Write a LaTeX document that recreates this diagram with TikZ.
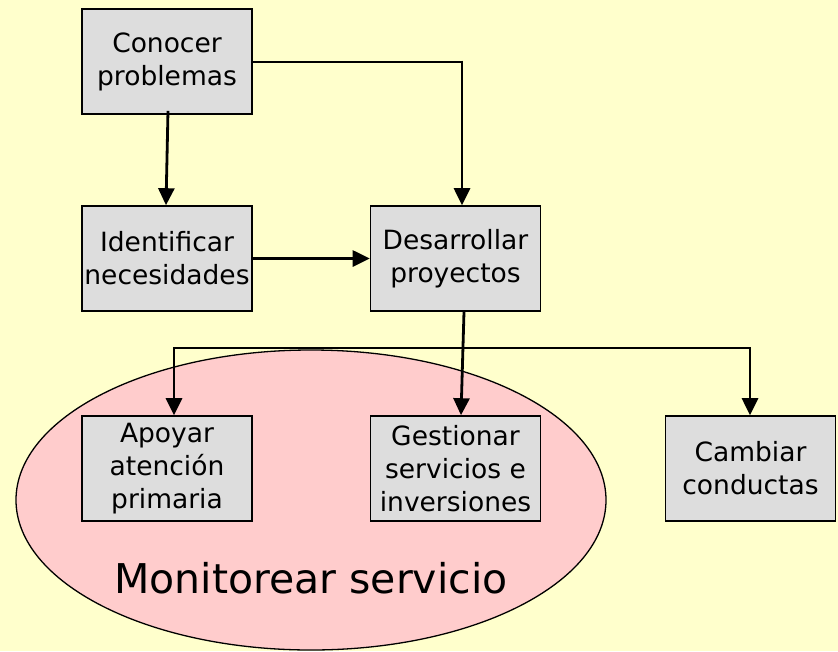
\documentclass[tikz,border=0pt]{standalone}
\usepackage{fontspec}
\setmainfont{DejaVu Sans}
\usetikzlibrary{arrows.meta,shapes.geometric}
\definecolor{bgY}{HTML}{FFFFCC}
\definecolor{boxG}{HTML}{DDDDDD}
\definecolor{ellP}{HTML}{FFCCCC}
\begin{document}
\begin{tikzpicture}[x=1pt,y=-1pt,
  box/.style={draw=black,line width=1.6pt,fill=boxG,minimum width=170pt,minimum height=105pt,
    inner sep=0pt,align=center,font=\fontsize{26.5}{33}\selectfont},
  arr/.style={line width=2.8pt,-{Triangle[length=17pt,width=16pt]}},
  ln/.style={line width=2pt}]
\fill[bgY] (0,0) rectangle (838,651);
\useasboundingbox (0,0) rectangle (838,651);
\node[draw=black,line width=1.3pt,fill=ellP,ellipse,minimum width=590pt,minimum height=300pt,inner sep=0pt] (ell) at (311,500) {};
\node[font=\fontsize{41}{48}\selectfont] (mon) at (311,578) {Monitorear servicio};
\node[box] (con) at (167,61.5) {Conocer\\problemas};
\node[box] (ide) at (167,258.5) {Identificar\\necesidades};
\node[box] (des) at (455.5,258.5) {Desarrollar\\proyectos};
\node[box] (apo) at (167,468.5) {Apoyar\\atención\\primaria};
\node[box] (ges) at (455.5,468.5) {Gestionar\\servicios e\\inversiones};
\node[box] (cam) at (750.5,468.5) {Cambiar\\conductas};
\coordinate (cor) at (462,61.5);
\coordinate (brL) at (174,348);
\coordinate (brR) at (750,348);
\draw[arr] ([xshift=1pt,yshift=4pt]con.south) -- ([xshift=-1pt]ide.north);
\draw[ln] (con.east) -- (cor);
\draw[arr] ([yshift=1pt]cor) -- (cor |- des.north);
\draw[arr] (ide.east) -- (des.west);
\draw[arr] ([xshift=8.5pt]des.south) -- ([xshift=5.5pt]ges.north);
\draw[ln] (brL) -- (brR);
\draw[arr] ([yshift=1pt]brL) -- (brL |- apo.north);
\draw[arr] ([yshift=1pt]brR) -- (brR |- cam.north);
\end{tikzpicture}
\end{document}
